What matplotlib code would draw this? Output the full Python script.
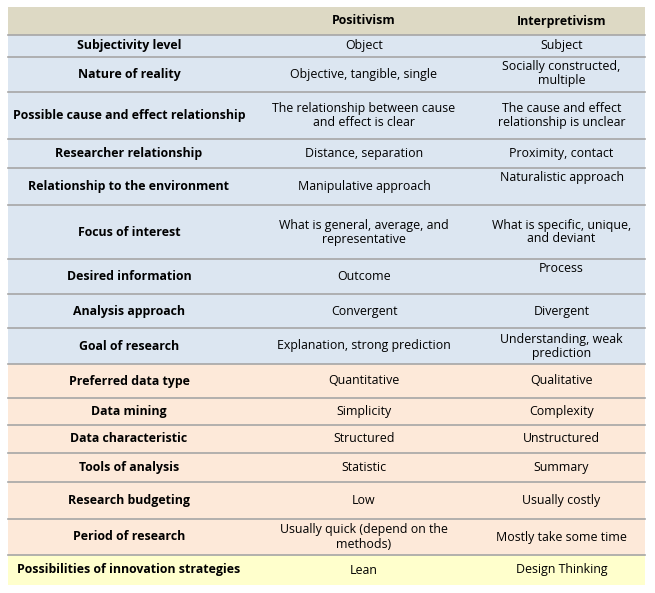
import matplotlib.pyplot as plt
from matplotlib.patches import Rectangle

plt.rcParams['font.family'] = ['Open Sans', 'DejaVu Sans']

headers = ["", "Positivism", "Interpretivism"]
criteria = ["Subjectivity level", "Nature of reality",
            "Possible cause and effect relationship", "Researcher relationship",
            "Relationship to the environment", "Focus of interest",
            "Desired information", "Analysis approach", "Goal of research",
            "Preferred data type", "Data mining", "Data characteristic",
            "Tools of analysis", "Research budgeting", "Period of research",
            "Possibilities of innovation strategies"]
positivism = ["Object", "Objective, tangible, single",
              "The relationship between cause\nand effect is clear",
              "Distance, separation", "Manipulative approach",
              "What is general, average, and\nrepresentative", "Outcome",
              "Convergent", "Explanation, strong prediction", "Quantitative",
              "Simplicity", "Structured", "Statistic", "Low",
              "Usually quick (depend on the\nmethods)", "Lean"]
interpretivism = ["Subject", "Socially constructed,\nmultiple",
                  "The cause and effect\nrelationship is unclear",
                  "Proximity, contact", "Naturalistic approach",
                  "What is specific, unique,\nand deviant", "Process",
                  "Divergent", "Understanding, weak\nprediction", "Qualitative",
                  "Complexity", "Unstructured", "Summary", "Usually costly",
                  "Mostly take some time", "Design Thinking"]
groups = ["blue"] * 9 + ["peach"] * 6 + ["yellow"]

colors = {"head": "#DDD9C4", "blue": "#DCE6F1", "peach": "#FDE9D9", "yellow": "#FFFFCC"}
row_edges = [7, 35, 57, 92, 139, 168, 205, 259, 294, 328, 364, 398, 425,
             453, 482, 519, 555, 585]
col_edges = [8, 250, 478, 645]
top_cells = {(1, 2), (4, 2), (6, 2)}  # cells whose text sits high

fig = plt.figure(figsize=(6.55, 5.93), dpi=100)
ax = fig.add_axes([0, 0, 1, 1])
ax.set_xlim(0, 655)
ax.set_ylim(593, 0)
ax.axis('off')

rows = [("head", headers)] + [(g, [c, p, i]) for g, c, p, i in
                              zip(groups, criteria, positivism, interpretivism)]
for r, (g, cells) in enumerate(rows):
    y0, y1 = row_edges[r], row_edges[r + 1]
    ax.add_patch(Rectangle((col_edges[0], y0), col_edges[-1] - col_edges[0],
                           y1 - y0, facecolor=colors[g], edgecolor='none'))
    if r > 0:
        ax.plot([col_edges[0], col_edges[-1]], [y0, y0], color='#A6A6A6', lw=1.2)
    for c, txt in enumerate(cells):
        xc = (col_edges[c] + col_edges[c + 1]) / 2
        bold = (c == 0 or r == 0)
        if (r - 1, c) in top_cells:
            y, va = y0 + 3, 'top'
        else:
            y, va = (y0 + y1) / 2, 'center'
        ax.text(xc, y, txt, ha='center', va=va, fontsize=8.9,
                fontweight='bold' if bold else 'normal', linespacing=1.1,
                color='black')

fig.savefig("out.png", dpi=100, facecolor='white')
